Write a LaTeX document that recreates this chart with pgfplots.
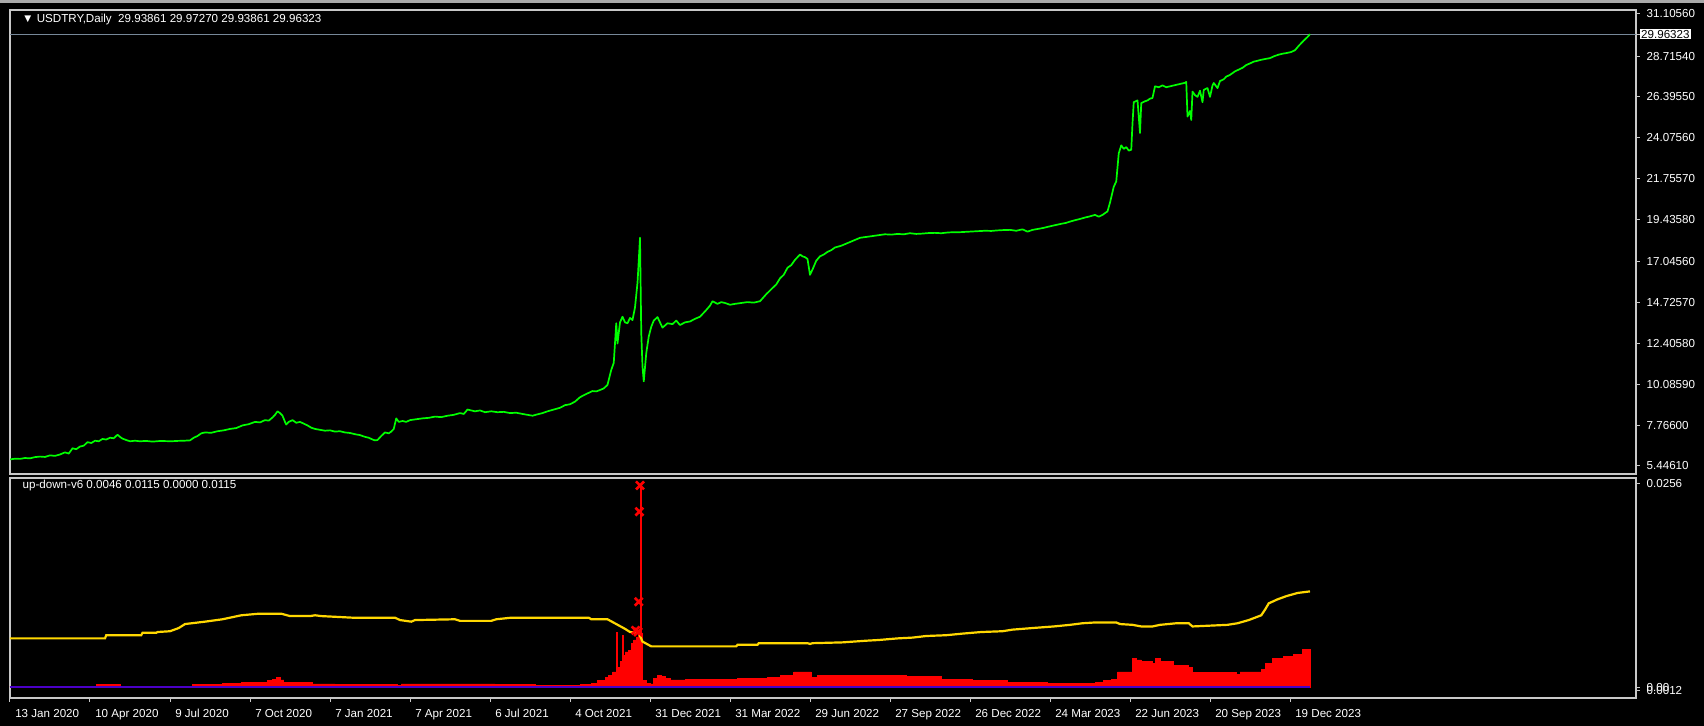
\documentclass[border=0pt]{standalone}
\usepackage{pgfplots}
\pgfplotsset{compat=1.18}
\usepackage{fontspec}
\setmainfont{Liberation Sans}

\definecolor{mtgreen}{RGB}{0,255,0}
\definecolor{mtgold}{RGB}{255,215,0}
\definecolor{mtred}{RGB}{255,0,0}
\definecolor{mtblue}{RGB}{75,0,200}
\definecolor{mtframe}{RGB}{200,200,200}
\definecolor{mtprice}{RGB}{119,136,153}
\definecolor{mtedge}{RGB}{170,170,170}

\newcommand{\mt}{\fontsize{5.8}{7}\selectfont}

% close prices, x = bar number (daily bars from 13 Jan 2020)
\pgfplotstableread{
bar price
0 5.82
4 5.86
8 5.85
12 5.90
16 5.88
20 5.95
24 5.98
28 5.96
32 6.05
36 6.02
40 6.10
44 6.22
47 6.15
50 6.45
53 6.40
56 6.55
59 6.60
62 6.80
65 6.75
68 6.88
71 6.85
74 6.98
77 6.95
80 7.05
83 7.02
86 7.22
88 7.10
90 7.00
93 6.92
96 6.85
100 6.88
104 6.85
109 6.87
114 6.83
119 6.86
124 6.86
129 6.85
134 6.87
139 6.88
144 6.90
147 7.05
150 7.15
153 7.30
156 7.35
161 7.33
166 7.42
171 7.47
176 7.55
181 7.60
186 7.75
191 7.82
196 7.95
200 7.92
204 8.05
207 8.02
210 8.20
212 8.35
214 8.55
216 8.45
218 8.30
220 7.95
221 7.80
223 7.95
226 8.05
229 7.90
232 7.95
235 7.85
238 7.75
241 7.62
244 7.55
248 7.50
252 7.45
256 7.47
260 7.40
264 7.42
268 7.35
272 7.32
276 7.25
280 7.20
284 7.10
287 7.05
290 6.95
292 6.90
294 6.92
297 7.15
300 7.35
303 7.30
305 7.40
307 7.55
309 8.15
311 7.95
314 8.00
317 7.95
320 8.05
325 8.10
330 8.15
335 8.18
340 8.25
345 8.22
350 8.30
355 8.35
360 8.45
363 8.40
366 8.65
369 8.60
372 8.55
376 8.60
380 8.50
385 8.55
390 8.50
395 8.52
400 8.45
405 8.47
410 8.40
414 8.35
418 8.30
422 8.38
426 8.45
430 8.55
435 8.65
440 8.75
444 8.90
448 8.95
452 9.10
456 9.35
460 9.50
463 9.60
466 9.70
469 9.68
472 9.76
475 9.85
478 10.05
481 10.90
483 11.30
485 13.55
486 12.40
488 13.60
490 13.92
492 13.60
494 13.55
496 13.85
498 13.73
500 14.45
502 15.85
503 17.10
504 18.40
505 13.00
506 11.10
507 10.25
509 11.85
511 12.80
513 13.35
515 13.70
518 13.90
520 13.60
522 13.30
526 13.55
530 13.50
533 13.70
536 13.45
540 13.60
544 13.65
548 13.80
552 13.92
557 14.30
560 14.55
562 14.80
566 14.65
569 14.75
572 14.70
576 14.60
580 14.65
585 14.70
590 14.75
595 14.72
600 14.80
605 15.20
610 15.55
613 15.75
616 16.10
619 16.30
622 16.70
625 16.85
628 17.15
632 17.45
634 17.35
636 17.30
638 17.20
640 16.30
642 16.60
645 17.10
648 17.35
651 17.45
654 17.60
657 17.70
660 17.85
665 17.95
670 18.10
675 18.25
680 18.40
685 18.45
690 18.50
695 18.55
700 18.60
705 18.58
710 18.62
715 18.60
720 18.66
725 18.62
730 18.64
735 18.67
740 18.68
745 18.66
750 18.70
755 18.72
760 18.72
765 18.74
770 18.76
775 18.78
780 18.80
785 18.79
790 18.82
795 18.84
800 18.85
805 18.80
810 18.88
814 18.75
818 18.85
822 18.90
826 18.95
830 19.02
835 19.10
840 19.18
845 19.25
848 19.32
852 19.40
856 19.47
860 19.55
864 19.62
868 19.70
871 19.60
874 19.70
876 19.80
878 19.90
880 20.40
883 21.30
885 21.60
887 23.20
889 23.65
891 23.45
893 23.55
895 23.35
897 23.40
898 24.90
899 26.10
902 26.20
904 24.35
905 26.05
908 26.15
910 26.20
912 26.30
914 26.34
916 27.00
919 26.95
922 27.05
925 26.95
928 27.00
931 27.05
934 27.10
937 27.15
940 27.20
941 27.25
942 25.28
944 25.60
945 25.09
946 26.70
948 26.50
950 26.40
952 26.75
954 26.10
955 26.80
958 26.90
960 26.40
962 27.05
963 27.19
966 26.90
968 27.30
971 27.40
973 27.55
976 27.65
980 27.85
983 27.95
986 28.05
989 28.21
992 28.30
995 28.40
998 28.45
1000 28.49
1004 28.55
1008 28.60
1011 28.70
1015 28.80
1018 28.85
1022 28.90
1025 28.95
1028 29.05
1031 29.30
1035 29.60
1038 29.80
1040 29.96
}\closes

% up-down-v6: signal line (gold)
\pgfplotstableread{
bar v
0 0.0061
76 0.0061
77 0.0065
105 0.0065
106 0.0068
117 0.0068
118 0.0069
128 0.0070
135 0.0074
140 0.0079
156 0.0082
170 0.0085
185 0.0090
199 0.0092
217 0.0092
224 0.0089
240 0.0089
244 0.0090
249 0.0089
274 0.0087
308 0.0087
312 0.0084
321 0.0082
324 0.0084
356 0.0085
360 0.0083
385 0.0083
389 0.0085
401 0.0087
463 0.0087
465 0.0085
478 0.0085
485 0.0079
492 0.0073
496 0.0069
503 0.0068
506 0.0057
513 0.0051
581 0.0051
582 0.0053
598 0.0053
599 0.0055
638 0.0055
640 0.0054
642 0.0055
666 0.0056
684 0.0058
695 0.0059
710 0.0061
722 0.0062
733 0.0064
749 0.0065
762 0.0067
777 0.0069
794 0.0070
802 0.0072
810 0.0073
818 0.0074
835 0.0076
848 0.0078
858 0.0080
868 0.0081
885 0.0081
888 0.0079
898 0.0078
905 0.0076
914 0.0076
920 0.0078
933 0.0080
943 0.0080
946 0.0076
974 0.0078
982 0.0080
991 0.0084
1001 0.0090
1004 0.0097
1007 0.0105
1014 0.0110
1021 0.0114
1030 0.0118
1040 0.0120
}\signal

% up-down-v6: histogram (red)
\pgfplotstableread{
bar v
0 0.0001
69 0.0003
88 0.0001
146 0.0003
170 0.0005
185 0.0006
206 0.0008
210 0.0010
213 0.0012
216 0.0009
219 0.0006
242 0.0004
260 0.0003
310 0.0002
313 0.0004
388 0.0003
420 0.0002
456 0.0003
465 0.0005
470 0.0008
476 0.0012
479 0.0015
482 0.0019
485 0.0069
486 0.0022
487 0.0025
488 0.0032
490 0.0065
491 0.0040
492 0.0044
495 0.0046
497 0.0055
499 0.0059
501 0.0063
503 0.0070
504 0.0255
505 0.0068
506 0.0008
509 0.0005
512 0.0004
515 0.0011
518 0.0015
521 0.0013
524 0.0011
528 0.0009
540 0.0010
581 0.0010
582 0.0011
606 0.0012
616 0.0015
627 0.0019
639 0.0019
641 0.0012
646 0.0015
702 0.0015
717 0.0013
745 0.0010
770 0.0008
798 0.0006
830 0.0005
868 0.0006
875 0.0008
881 0.0010
886 0.0019
897 0.0019
898 0.0036
901 0.0034
905 0.0032
914 0.0030
916 0.0036
920 0.0032
931 0.0027
943 0.0025
946 0.0018
981 0.0016
984 0.0019
1001 0.0022
1004 0.0030
1010 0.0036
1019 0.0038
1027 0.0041
1034 0.0047
1040 0.0047
}\hist

\pgfplotsset{
  mtpanel/.style={
    scale only axis,
    width=813pt,
    xmin=0, xmax=1300.8,
    axis background/.style={fill=black},
    axis line style={mtframe, line width=0.6pt},
    tick align=outside,
    major tick length=1.8pt,
    tick style={mtframe, line width=0.5pt},
    ticklabel style={text=white, font=\mt},
    yticklabel pos=right,
    ytick pos=right,
    clip mode=individual,
  }
}

\begin{document}
\begin{tikzpicture}
\fill[black] (0pt,0pt) rectangle (852pt,-363pt);
\fill[mtedge] (0pt,0pt) rectangle (852pt,-1.3pt);
\useasboundingbox (0pt,0pt) rectangle (852pt,-363pt);

\begin{axis}[
  mtpanel,
  at={(5pt,-5pt)}, anchor=north west,
  height=232pt,
  ymin=4.992, ymax=31.333,
  xtick=\empty,
  ytick={5.4461,7.766,10.0859,12.4058,14.7257,17.0456,19.4358,21.7557,24.0756,26.3955,28.7154,31.1056},
  yticklabels={5.44610,7.76600,10.08590,12.40580,14.72570,17.04560,19.43580,21.75570,24.07560,26.39550,28.71540,31.10560},
  extra y ticks={29.96323},
  extra y tick labels={29.96323},
  extra y tick style={
    grid=major,
    major grid style={mtprice, line width=0.6pt},
    yticklabel style={fill=white, text=black, inner sep=0.6pt},
  },
]
\addplot[mtgreen, line width=0.85pt, line join=round] table[x=bar, y=price] {\closes};
\node[anchor=west, text=white, font=\mt, xshift=2.5pt, yshift=-4.6pt]
  at (rel axis cs:0,1) {▼ USDTRY,Daily\ \ 29.93861 29.97270 29.93861 29.96323};
\end{axis}

\begin{axis}[
  mtpanel,
  at={(5pt,-239pt)}, anchor=north west,
  height=110pt,
  ymin=-0.00138, ymax=0.02623,
  scaled ticks=false,
  xtick={0,64,...,1024},
  xticklabels={13 Jan 2020,10 Apr 2020,9 Jul 2020,7 Oct 2020,7 Jan 2021,7 Apr 2021,6 Jul 2021,4 Oct 2021,31 Dec 2021,31 Mar 2022,29 Jun 2022,27 Sep 2022,26 Dec 2022,24 Mar 2023,22 Jun 2023,20 Sep 2023,19 Dec 2023},
  xticklabel style={anchor=north west, xshift=-0.9pt, text height=4.4pt, text depth=0.8pt},
  xtick pos=bottom,
  ytick={0.0256,-0.00045},
  yticklabels={0.0256,0.0012},
  extra y ticks={-0.0001},
  extra y tick labels={0.00},
]
\addplot[mtred, fill=mtred, line width=0.3pt, const plot] table[x=bar, y=v] {\hist} \closedcycle;
\addplot[mtblue, line width=0.9pt] coordinates {(0,0) (1040,0)};
\addplot[mtgold, line width=1.1pt] table[x=bar, y=v] {\signal};
\addplot[only marks, mark=x, mark size=2.8pt, mtred, line width=1.3pt]
  coordinates {(504,0.0253) (503.5,0.0220) (503,0.0107) (500.5,0.0071) (502.5,0.0069)};
\node[anchor=west, text=white, font=\mt, xshift=2.8pt, yshift=-3.6pt]
  at (rel axis cs:0,1) {up-down-v6 0.0046 0.0115 0.0000 0.0115};
\end{axis}
\end{tikzpicture}
\end{document}
